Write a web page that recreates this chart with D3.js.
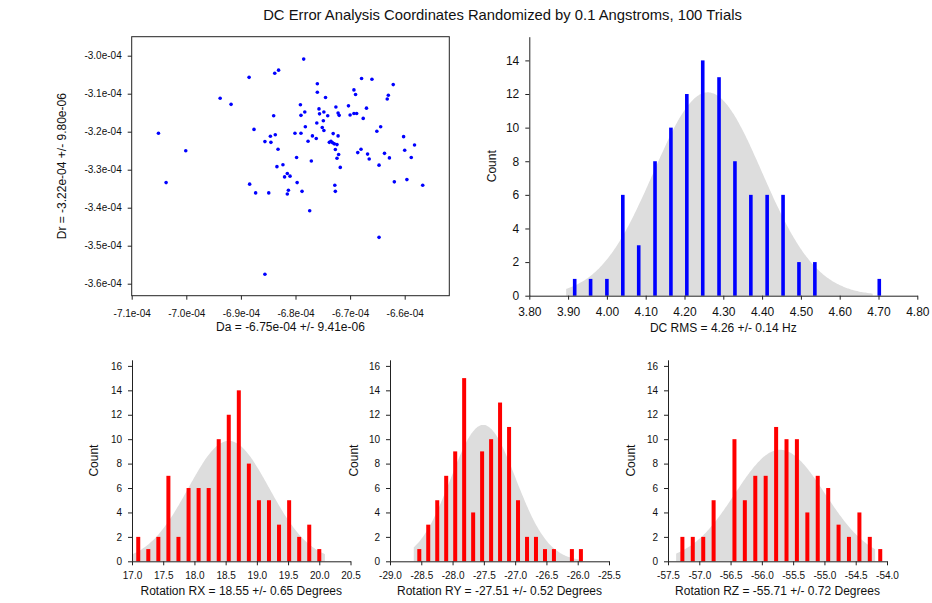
<!DOCTYPE html>
<html>
<head>
<meta charset="utf-8">
<script src="https://cdn.jsdelivr.net/npm/d3@7"></script>
<style>
  html, body { margin: 0; padding: 0; background: #fff; }
  svg { display: block; font-family: "Liberation Sans", Arial, Helvetica, sans-serif; }
  .tick text { fill: #111; }
  .domain, .tick line { stroke: #222; }
  .lbl { fill: #111; }
</style>
</head>
<body>
<svg id="chart" width="932" height="603"></svg>
<script>
// ---- Data -------------------------------------------------------------
const chartTitle = "DC Error Analysis Coordinates Randomized by 0.1 Angstroms, 100 Trials";

// Scatter: per-trial Da / Dr
const daValues = [
  -705.1e-6, -703.7e-6, -700.1e-6, -693.8e-6, -691.8e-6, -688.5e-6, -683.8e-6, -683.1e-6, -678.5e-6, -687.6e-6,
  -688.4e-6, -687.3e-6, -685.6e-6, -685.6e-6, -684.9e-6, -684.6e-6, -684.5e-6, -684.0e-6, -683.7e-6, -683.4e-6,
  -683.2e-6, -682.3e-6, -682.0e-6, -681.5e-6, -681.5e-6, -681.3e-6, -681.0e-6, -680.1e-6, -679.8e-6, -679.7e-6,
  -679.1e-6, -679.0e-6, -679.0e-6, -678.8e-6, -678.3e-6, -678.2e-6, -677.7e-6, -677.4e-6, -677.1e-6, -676.9e-6,
  -676.2e-6, -676.1e-6, -676.0e-6, -676.0e-6, -675.7e-6, -675.6e-6, -675.1e-6, -674.9e-6, -674.8e-6, -674.8e-6,
  -674.5e-6, -674.1e-6, -673.8e-6, -673.5e-6, -673.1e-6, -672.9e-6, -672.8e-6, -672.7e-6, -672.7e-6, -672.6e-6,
  -672.4e-6, -672.4e-6, -672.2e-6, -672.2e-6, -672.1e-6, -672.0e-6, -671.8e-6, -670.3e-6, -670.0e-6, -669.3e-6,
  -669.3e-6, -669.0e-6, -668.8e-6, -668.6e-6, -668.0e-6, -667.9e-6, -667.6e-6, -667.0e-6, -666.8e-6, -666.5e-6,
  -666.0e-6, -665.1e-6, -664.7e-6, -664.7e-6, -664.4e-6, -663.7e-6, -663.2e-6, -663.0e-6, -662.8e-6, -662.1e-6,
  -661.9e-6, -660.2e-6, -660.0e-6, -659.6e-6, -658.8e-6, -658.2e-6, -656.7e-6, -673.2e-6
];
const drValues = [
  -320.4e-6, -333.4e-6, -325.0e-6, -311.2e-6, -312.8e-6, -305.7e-6, -304.6e-6, -303.8e-6, -300.9e-6, -319.4e-6,
  -333.8e-6, -336.1e-6, -322.6e-6, -357.5e-6, -336.1e-6, -321.2e-6, -322.8e-6, -315.8e-6, -320.8e-6, -329.2e-6,
  -324.6e-6, -328.7e-6, -331.9e-6, -331.0e-6, -336.4e-6, -335.4e-6, -331.7e-6, -320.4e-6, -326.8e-6, -333.4e-6,
  -312.9e-6, -320.4e-6, -315.7e-6, -335.7e-6, -314.8e-6, -318.7e-6, -322.5e-6, -340.8e-6, -327.7e-6, -321.1e-6,
  -321.8e-6, -317.7e-6, -309.6e-6, -307.4e-6, -314.0e-6, -315.3e-6, -318.9e-6, -317.1e-6, -319.7e-6, -314.8e-6,
  -311.0e-6, -315.8e-6, -322.8e-6, -322.5e-6, -320.5e-6, -323.2e-6, -334.1e-6, -335.7e-6, -324.7e-6, -313.5e-6,
  -327.0e-6, -323.4e-6, -315.1e-6, -321.1e-6, -326.0e-6, -315.7e-6, -329.4e-6, -313.2e-6, -315.6e-6, -309.0e-6,
  -315.2e-6, -310.2e-6, -315.2e-6, -325.5e-6, -324.6e-6, -306.0e-6, -316.5e-6, -313.8e-6, -325.9e-6, -327.2e-6,
  -306.2e-6, -319.9e-6, -328.8e-6, -347.8e-6, -318.7e-6, -325.7e-6, -311.4e-6, -310.4e-6, -326.9e-6, -307.6e-6,
  -333.2e-6, -321.3e-6, -324.9e-6, -332.6e-6, -326.8e-6, -323.5e-6, -334.1e-6, -322.9e-6
];
const daTicks = [-7.1e-4, -7.0e-4, -6.9e-4, -6.8e-4, -6.7e-4, -6.6e-4];
const drTicks = [-3.0e-4, -3.1e-4, -3.2e-4, -3.3e-4, -3.4e-4, -3.5e-4, -3.6e-4];
const daLabel = "Da = -6.75e-04 +/- 9.41e-06";
const drLabel = "Dr = -3.22e-04 +/- 9.80e-06";

// DC RMS histogram
const dcCenters = [3.917, 3.958, 4.000, 4.041, 4.082, 4.124, 4.165, 4.206, 4.247, 4.289, 4.330, 4.371, 4.413, 4.454, 4.495, 4.536, 4.702];
const dcCounts  = [1, 1, 1, 6, 3, 8, 10, 12, 14, 13, 8, 6, 6, 6, 2, 2, 1];
const dcFit = { mean: 4.26, sd: 0.14, peak: 12.1, from: 3.895, to: 4.685 };
const dcTicks = [3.8, 3.9, 4.0, 4.1, 4.2, 4.3, 4.4, 4.5, 4.6, 4.7, 4.8];
const dcCountTicks = [0, 2, 4, 6, 8, 10, 12, 14];
const dcLabel = "DC RMS = 4.26 +/- 0.14 Hz";

// Rotation RX histogram
const rxCenters = [17.100, 17.261, 17.422, 17.583, 17.744, 17.906, 18.067, 18.228, 18.389, 18.550,
                   18.711, 18.872, 19.033, 19.194, 19.355, 19.517, 19.678, 19.839, 20.000];
const rxCounts  = [2, 1, 2, 7, 2, 6, 6, 6, 10, 12, 14, 8, 5, 5, 3, 5, 2, 3, 1];
const rxFit = { mean: 18.55, sd: 0.65, peak: 9.86, from: 17.01, to: 20.09 };
const rxTicks = [17.0, 17.5, 18.0, 18.5, 19.0, 19.5, 20.0, 20.5];
const rxLabel = "Rotation RX = 18.55 +/- 0.65 Degrees";

// Rotation RY histogram
const ryCenters = [-28.532, -28.389, -28.245, -28.102, -27.958, -27.815, -27.671, -27.528, -27.384, -27.241,
                   -27.097, -26.954, -26.810, -26.667, -26.523, -26.380, -26.093, -25.949];
const ryCounts  = [1, 3, 5, 7, 9, 15, 4, 9, 10, 13, 11, 5, 2, 2, 1, 1, 1, 1];
const ryFit = { mean: -27.51, sd: 0.52, peak: 11.17, from: -28.62, to: -25.94 };
const ryTicks = [-29.0, -28.5, -28.0, -27.5, -27.0, -26.5, -26.0, -25.5];
const ryLabel = "Rotation RY = -27.51 +/- 0.52 Degrees";

// Rotation RZ histogram
const rzCenters = [-57.270, -57.104, -56.937, -56.771, -56.438, -56.272, -56.105, -55.939, -55.772, -55.606,
                   -55.440, -55.273, -55.107, -54.940, -54.774, -54.608, -54.441, -54.275, -54.108];
const rzCounts  = [2, 2, 2, 5, 10, 5, 7, 7, 11, 10, 10, 4, 7, 6, 3, 2, 4, 2, 1];
const rzFit = { mean: -55.71, sd: 0.72, peak: 9.13, from: -57.37, to: -54.19 };
const rzTicks = [-57.5, -57.0, -56.5, -56.0, -55.5, -55.0, -54.5, -54.0];
const rzLabel = "Rotation RZ = -55.71 +/- 0.72 Degrees";

const rotCountTicks = [0, 2, 4, 6, 8, 10, 12, 14, 16];

// ---- Drawing ----------------------------------------------------------
const svg = d3.select("#chart");

svg.append("text").attr("class", "lbl")
  .attr("x", 502.5).attr("y", 20)
  .attr("text-anchor", "middle")
  .style("font-size", "14.8px")
  .text(chartTitle);

// exponent with two digits and a plain hyphen, e.g. -7.1e-04
function sci(d) {
  const parts = d.toExponential(1).split("e");
  const exp = parts[1];
  return parts[0] + "e" + exp[0] + exp.slice(1).padStart(2, "0");
}
// fixed decimals with a plain hyphen for negatives
const fixed = n => d => d.toFixed(n);

// Scatter of Da vs Dr
(function () {
  const left = 131.7, right = 449.3, top = 36.7, bottom = 295.7;
  const x = d3.scaleLinear().domain([-7.1e-4, -6.6e-4]).range([131.7, 404.7]);
  const y = d3.scaleLinear().domain([-3.0e-4, -3.6e-4]).range([55.7, 283.7]);
  const g = svg.append("g");

  g.selectAll("circle").data(daValues).join("circle")
    .attr("cx", d => x(d))
    .attr("cy", (d, i) => y(drValues[i]))
    .attr("r", 1.8)
    .attr("fill", "#0000ff");

  g.append("rect")
    .attr("x", left).attr("y", top)
    .attr("width", right - left).attr("height", bottom - top)
    .attr("fill", "none").attr("stroke", "#222").attr("stroke-width", 1);

  const xa = g.append("g").attr("transform", `translate(0,${bottom})`)
    .call(d3.axisBottom(x).tickValues(daTicks).tickFormat(sci).tickSize(4).tickPadding(10).tickSizeOuter(0));
  xa.select(".domain").remove();
  xa.selectAll("text").style("font-size", "10px");

  const ya = g.append("g").attr("transform", `translate(${left},0)`)
    .call(d3.axisLeft(y).tickValues(drTicks).tickFormat(sci).tickSize(4).tickPadding(6).tickSizeOuter(0));
  ya.select(".domain").remove();
  ya.selectAll("text").style("font-size", "10px");

  g.append("text").attr("class", "lbl")
    .attr("x", (left + right) / 2).attr("y", 331)
    .attr("text-anchor", "middle").style("font-size", "12px")
    .text(daLabel);
  g.append("text").attr("class", "lbl")
    .attr("transform", `translate(66,${(top + bottom) / 2}) rotate(-90)`)
    .attr("text-anchor", "middle").style("font-size", "12px")
    .text(drLabel);
})();

// Histogram with a fitted normal curve behind the bars
function histogram(cfg) {
  const g = svg.append("g");
  const x = d3.scaleLinear().domain(cfg.xDomain).range(cfg.xRange);
  const y = d3.scaleLinear().domain(cfg.yDomain).range(cfg.yRange);
  const f = cfg.fit;
  const samples = d3.range(0, 241).map(i => f.from + (f.to - f.from) * i / 240);
  const area = d3.area()
    .x(t => x(t))
    .y0(y(0))
    .y1(t => y(f.peak * Math.exp(-0.5 * Math.pow((t - f.mean) / f.sd, 2))))
    .curve(d3.curveBasis);
  g.append("path").datum(samples).attr("d", area).attr("fill", "#dddddd");

  g.selectAll("rect.bar").data(cfg.centers).join("rect")
    .attr("class", "bar")
    .attr("x", d => x(d) - cfg.barWidth / 2)
    .attr("width", cfg.barWidth)
    .attr("y", (d, i) => y(cfg.counts[i]))
    .attr("height", (d, i) => y(0) - y(cfg.counts[i]))
    .attr("fill", cfg.color);

  const xa = g.append("g").attr("transform", `translate(0,${y(0)})`)
    .call(d3.axisBottom(x).tickValues(cfg.xTicks).tickFormat(fixed(cfg.xDecimals))
      .tickSize(4).tickPadding(cfg.xPad).tickSizeOuter(0));
  xa.selectAll("text").style("font-size", cfg.tickFont);

  const ya = g.append("g").attr("transform", `translate(${cfg.xRange[0]},0)`)
    .call(d3.axisLeft(y).tickValues(cfg.yTicks).tickFormat(fixed(0))
      .tickSize(4).tickPadding(6).tickSizeOuter(0));
  ya.selectAll("text").style("font-size", cfg.tickFont);

  g.append("text").attr("class", "lbl")
    .attr("x", (cfg.xRange[0] + cfg.xRange[1]) / 2).attr("y", cfg.labelY)
    .attr("text-anchor", "middle").style("font-size", "12px")
    .text(cfg.label);
  g.append("text").attr("class", "lbl")
    .attr("transform", `translate(${cfg.countX},${(cfg.yRange[0] + cfg.yRange[1]) / 2}) rotate(-90)`)
    .attr("text-anchor", "middle").style("font-size", "12px")
    .text("Count");
}

histogram({
  centers: dcCenters, counts: dcCounts, fit: dcFit, color: "#0000ff", barWidth: 3.6,
  xDomain: [3.8, 4.8], xRange: [529.3, 917.3], xTicks: dcTicks, xDecimals: 2, xPad: 8,
  yDomain: [0, 15.41], yRange: [295.7, 36.7], yTicks: dcCountTicks,
  tickFont: "12px", label: dcLabel, labelY: 331.5, countX: 496
});

histogram({
  centers: rxCenters, counts: rxCounts, fit: rxFit, color: "#ff0000", barWidth: 4,
  xDomain: [17.0, 20.5], xRange: [132, 350.5], xTicks: rxTicks, xDecimals: 1, xPad: 7,
  yDomain: [0, 16.5], yRange: [561.3, 359.8], yTicks: rotCountTicks,
  tickFont: "10px", label: rxLabel, labelY: 595, countX: 98.3
});

histogram({
  centers: ryCenters, counts: ryCounts, fit: ryFit, color: "#ff0000", barWidth: 4,
  xDomain: [-29.0, -25.5], xRange: [390, 609], xTicks: ryTicks, xDecimals: 1, xPad: 7,
  yDomain: [0, 16.5], yRange: [561.3, 359.8], yTicks: rotCountTicks,
  tickFont: "10px", label: ryLabel, labelY: 595, countX: 358.3
});

histogram({
  centers: rzCenters, counts: rzCounts, fit: rzFit, color: "#ff0000", barWidth: 4,
  xDomain: [-57.5, -54.0], xRange: [668, 887], xTicks: rzTicks, xDecimals: 1, xPad: 7,
  yDomain: [0, 16.5], yRange: [561.3, 359.8], yTicks: rotCountTicks,
  tickFont: "10px", label: rzLabel, labelY: 595, countX: 635
});
</script>
</body>
</html>
